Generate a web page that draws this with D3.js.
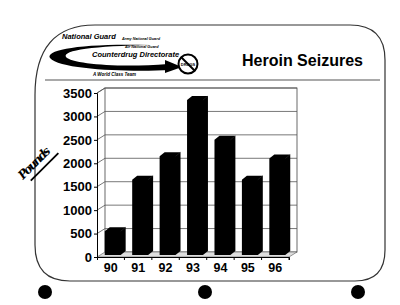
<!DOCTYPE html>
<html>
<head>
<meta charset="utf-8">
<title>Heroin Seizures</title>
<script src="https://cdn.jsdelivr.net/npm/d3@7"></script>
<style>
  body { margin: 0; background: #fff; }
  svg { display: block; font-family: "Liberation Sans", Arial, sans-serif; }
</style>
</head>
<body>
<div id="chart"></div>
<script>
var years = ["90", "91", "92", "93", "94", "95", "96"];
var pounds = [550, 1650, 2150, 3350, 2500, 1650, 2100];
var yTicks = [0, 500, 1000, 1500, 2000, 2500, 3000, 3500];

var width = 400, height = 305;
var svg = d3.select("#chart").append("svg")
  .attr("width", width).attr("height", height);

// rounded frame of the slide
svg.append("path")
  .attr("d", "M35,95 Q35,25 95,25 L350,25 Q385,25 385,60 L385,250 Q385,281 355,281 L70,281 Q35,281 35,245 Z")
  .attr("fill", "none").attr("stroke", "#333").attr("stroke-width", 1.2);
svg.append("line").attr("x1", 45).attr("x2", 380).attr("y1", 80).attr("y2", 80)
  .attr("stroke", "#555").attr("stroke-width", 1.2);

// punch holes
[45, 205, 358].forEach(function(cx) {
  svg.append("circle").attr("cx", cx).attr("cy", 292).attr("r", 7).attr("fill", "#000");
});

// logo
var logo = svg.append("g");
logo.append("path")
  .attr("d", "M170,70 C130,72 60,70 50,58 C45,50 80,43 150,45 C95,46 62,50 66,57 C72,64 120,68 168,64 Z")
  .attr("fill", "#000");
logo.append("path").attr("d", "M165,60 L182,67 L165,73 Z").attr("fill", "#000");
logo.append("text").attr("x", 62).attr("y", 39).text("National Guard")
  .attr("font-size", 7.5).attr("font-weight", "bold").attr("font-style", "italic");
logo.append("text").attr("x", 122).attr("y", 40).text("Army National Guard")
  .attr("font-size", 3.8).attr("font-weight", "bold").attr("font-style", "italic");
logo.append("text").attr("x", 125).attr("y", 48).text("Air National Guard")
  .attr("font-size", 3.8).attr("font-weight", "bold").attr("font-style", "italic");
logo.append("text").attr("x", 92).attr("y", 57).text("Counterdrug Directorate")
  .attr("font-size", 7.5).attr("font-weight", "bold").attr("font-style", "italic");
logo.append("text").attr("x", 93).attr("y", 76).text("A World Class Team")
  .attr("font-size", 4.5).attr("font-weight", "bold").attr("font-style", "italic");
logo.append("circle").attr("cx", 188).attr("cy", 64).attr("r", 9.5)
  .attr("fill", "#fff").attr("stroke", "#000").attr("stroke-width", 2);
logo.append("text").attr("x", 188).attr("y", 66).attr("text-anchor", "middle")
  .text("DRUGS").attr("font-size", 4).attr("font-weight", "bold");
logo.append("line").attr("x1", 181).attr("y1", 57).attr("x2", 195).attr("y2", 71)
  .attr("stroke", "#000").attr("stroke-width", 2);

svg.append("text").attr("x", 242).attr("y", 66).text("Heroin Seizures")
  .attr("font-size", 16).attr("font-weight", "bold");

// handwritten axis title
var hw = svg.append("g").attr("transform", "translate(23,180) rotate(-45)");
hw.append("text").text("Pounds")
  .attr("font-family", "DejaVu Serif, serif").attr("font-style", "italic")
  .attr("font-weight", "bold").attr("font-size", 12).attr("textLength", 40);
hw.append("line").attr("x1", 5).attr("x2", 44).attr("y1", 6).attr("y2", 6)
  .attr("stroke", "#000").attr("stroke-width", 1.8);

// chart geometry
var x0 = 97, x1 = 289, yBase = 257, yTop = 93;
var dx = 8, dy = -5;
var x = d3.scaleBand().domain(years).range([x0, x1]).paddingInner(0.42).paddingOuter(0.21);
var y = d3.scaleLinear().domain([0, 3500]).range([yBase, yTop]);

// back wall
svg.append("rect").attr("x", x0 + dx).attr("y", yTop + dy)
  .attr("width", x1 - x0).attr("height", yBase - yTop)
  .attr("fill", "#fff").attr("stroke", "#444").attr("stroke-width", 0.8);
// floor
svg.append("path")
  .attr("d", "M" + x0 + "," + yBase + " L" + (x0 + dx) + "," + (yBase + dy) + " L" + (x1 + dx) + "," + (yBase + dy) + " L" + x1 + "," + yBase + " Z")
  .attr("fill", "#ddd").attr("stroke", "#555").attr("stroke-width", 0.6);
// left side wall edge
svg.append("line").attr("x1", x0).attr("x2", x0 + dx).attr("y1", yTop).attr("y2", yTop + dy)
  .attr("stroke", "#444").attr("stroke-width", 0.8);

// gridlines
svg.selectAll(".grid").data(yTicks.slice(1)).enter().append("path")
  .attr("class", "grid")
  .attr("d", function(d) {
    return "M" + x0 + "," + y(d) + " L" + (x0 + dx) + "," + (y(d) + dy) + " L" + (x1 + dx) + "," + (y(d) + dy);
  })
  .attr("fill", "none").attr("stroke", "#555").attr("stroke-width", 0.8);

// bars
var bw = x.bandwidth(), bdx = 5, bdy = -4;
var bars = svg.selectAll(".bar").data(pounds).enter().append("g").attr("class", "bar");
bars.append("path")
  .attr("d", function(d, i) {
    var l = x(years[i]) + 2, r = l + bw, t = y(d), b = yBase - 2;
    return "M" + l + "," + b + " L" + l + "," + t + " L" + (l + bdx) + "," + (t + bdy) +
      " L" + (r + bdx) + "," + (t + bdy) + " L" + (r + bdx) + "," + (b + bdy) + " L" + r + "," + b + " Z";
  })
  .attr("fill", "#000");
bars.append("line")
  .attr("x1", function(d, i) { return x(years[i]) + 2 + bw; })
  .attr("x2", function(d, i) { return x(years[i]) + 2 + bw + bdx; })
  .attr("y1", function(d) { return y(d); })
  .attr("y2", function(d) { return y(d) + bdy; })
  .attr("stroke", "#333").attr("stroke-width", 0.5);

// axes
var yAxis = svg.append("g").attr("transform", "translate(" + x0 + ",0)")
  .call(d3.axisLeft(y).tickValues(yTicks).tickFormat(d3.format("d")).tickSize(3).tickPadding(2));
yAxis.selectAll("text").attr("font-size", 13).attr("font-weight", "bold")
  .attr("font-family", "Liberation Sans, Arial, sans-serif").attr("fill", "#000");
yAxis.selectAll("line, path").attr("stroke", "#000");

var xAxis = svg.append("g").attr("transform", "translate(0," + yBase + ")")
  .call(d3.axisBottom(x).tickSize(3).tickPadding(3));
xAxis.selectAll("text").attr("font-size", 12.5).attr("font-weight", "bold")
  .attr("font-family", "Liberation Sans, Arial, sans-serif").attr("fill", "#000");
xAxis.selectAll("line, path").attr("stroke", "#000");
xAxis.selectAll(".tick line").attr("transform", "translate(" + (x.step() / 2) + ",0)");
</script>
</body>
</html>
